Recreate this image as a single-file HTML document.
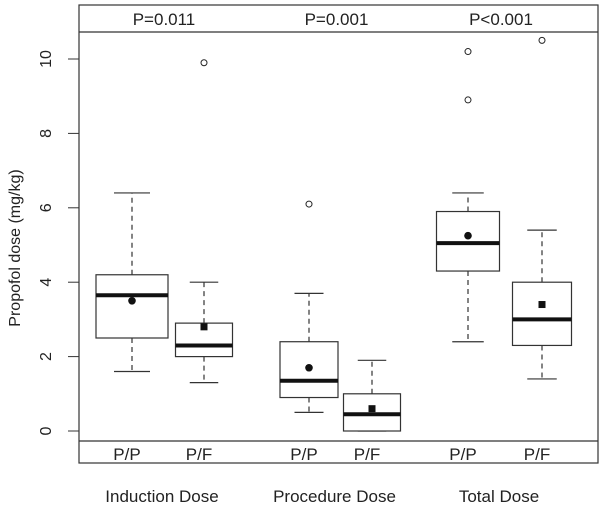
<!DOCTYPE html>
<html><head><meta charset="utf-8"><style>
body{margin:0;background:#fff}
svg{display:block;font-family:"Liberation Sans",Arial,sans-serif}
</style></head><body>
<svg id="chart" width="604" height="508">
<rect x="79" y="5" width="519" height="458" fill="none" stroke="#333" stroke-width="1.2"/>
<line x1="79" y1="32" x2="598" y2="32" stroke="#333" stroke-width="1.2"/>
<line x1="79" y1="441" x2="598" y2="441" stroke="#333" stroke-width="1.2"/>
<text transform="translate(20,248) rotate(-90)" text-anchor="middle" font-size="16" fill="#222">Propofol dose (mg/kg)</text>
<g id="g"></g>
</svg>
<script>
const groups=["Induction Dose","Procedure Dose","Total Dose"];
const pvalues=["P=0.011","P=0.001","P<0.001"];
const boxLabels=["P/P","P/F","P/P","P/F","P/P","P/F"];
const whiskerLow=[1.6,1.3,0.5,0,2.4,1.4];
const q1=[2.5,2.0,0.9,0,4.3,2.3];
const medians=[3.65,2.3,1.35,0.45,5.05,3.0];
const q3=[4.2,2.9,2.4,1.0,5.9,4.0];
const whiskerHigh=[6.4,4.0,3.7,1.9,6.4,5.4];
const means=[3.5,2.8,1.7,0.6,5.25,3.4];
const outliers=[[],[9.9],[6.1],[],[8.9,10.2],[10.5]];
const yTicks=[0,2,4,6,8,10];
const NS="http://www.w3.org/2000/svg";
const g=document.getElementById('g');
function y(v){return 431-37.2*v;}
const centers=[132,204,309,372,468,542];
const widths=[72,57,58,57,63,59];
function mk(t,a){const e=document.createElementNS(NS,t);for(const k in a)e.setAttribute(k,a[k]);g.appendChild(e);return e;}
yTicks.forEach(t=>{
 const l=mk('line',{x1:68,x2:79,y1:y(t),y2:y(t),stroke:'#333'});
 
 
 const tx=mk('text',{transform:`translate(51,${y(t)}) rotate(-90)`,'text-anchor':'middle','font-size':16,fill:'#222'});
 tx.textContent=t;
 
 
});
centers.forEach((c,i)=>{
 const w=widths[i],h=w/2;
 const s={stroke:'#333','stroke-width':1.2};
 const d1=mk('line',Object.assign({x1:c,x2:c,y1:y(q3[i]),y2:y(whiskerHigh[i]),'stroke-dasharray':'5,4'},s));
 
 
 const d2=mk('line',Object.assign({x1:c,x2:c,y1:y(q1[i]),y2:y(whiskerLow[i]),'stroke-dasharray':'5,4'},s));
 
 
 [whiskerHigh[i],whiskerLow[i]].forEach(v=>{
  const cap=mk('line',Object.assign({x1:c-w/4,x2:c+w/4,y1:y(v),y2:y(v)},s));
  
  
 });
 const b=mk('rect',Object.assign({x:c-h,y:y(q3[i]),width:w,height:y(q1[i])-y(q3[i]),fill:'#fff'},s));
 
 
 const m=mk('line',{x1:c-h,x2:c+h,y1:y(medians[i]),y2:y(medians[i]),stroke:'#111','stroke-width':4});
 
 
 let mm;
 if(i%2==0) mm=mk('circle',{cx:c,cy:y(means[i]),r:3.8,fill:'#111'});
 else mm=mk('rect',{x:c-3.5,y:y(means[i])-3.5,width:7,height:7,fill:'#111'});
 
 
 outliers[i].forEach(v=>{
  const o=mk('circle',{cx:c,cy:y(v),r:3,fill:'none',stroke:'#222','stroke-width':1});
  
  
 });
 const bl=mk('text',{x:c-5,y:460,'text-anchor':'middle','font-size':17,fill:'#222'});
 bl.textContent=boxLabels[i];
 
 
});
groups.forEach((gname,k)=>{
 const cx=(centers[2*k]+centers[2*k+1])/2;
 const t=mk('text',{x:cx-6,y:502,'text-anchor':'middle','font-size':17,fill:'#222'});
 t.textContent=gname;
 
 
 const p=mk('text',{x:cx-4,y:25,'text-anchor':'middle','font-size':17,fill:'#222'});
 p.textContent=pvalues[k];
 
 
});
</script>
</body></html>
